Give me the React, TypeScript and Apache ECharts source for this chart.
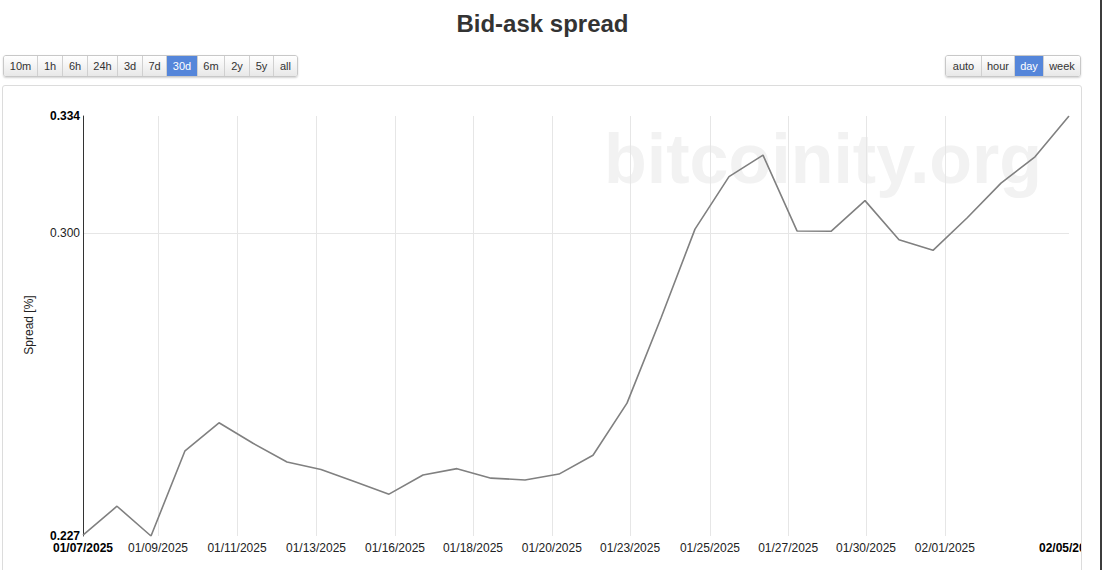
import React, { useEffect, useRef } from 'react';
import * as echarts from 'echarts';

const dates = [
  '2025-01-07', '2025-01-08', '2025-01-09', '2025-01-10', '2025-01-11', '2025-01-12',
  '2025-01-13', '2025-01-14', '2025-01-15', '2025-01-16', '2025-01-17', '2025-01-18',
  '2025-01-19', '2025-01-20', '2025-01-21', '2025-01-22', '2025-01-23', '2025-01-24',
  '2025-01-25', '2025-01-26', '2025-01-27', '2025-01-28', '2025-01-29', '2025-01-30',
  '2025-01-31', '2025-02-01', '2025-02-02', '2025-02-03', '2025-02-04', '2025-02-05',
];
const spread = [
  0.2272, 0.2333, 0.227, 0.2455, 0.2519, 0.2472,
  0.243, 0.2413, 0.2386, 0.2359, 0.2401, 0.2415,
  0.2394, 0.239, 0.2403, 0.2445, 0.2565, 0.2774,
  0.301, 0.3159, 0.3222, 0.3005, 0.3004, 0.309,
  0.2981, 0.2952, 0.3041, 0.314, 0.3217, 0.334,
];
// x tick positions, in days after the first date
const xTickDays = [2.206, 4.53, 6.853, 9.176, 11.47, 13.79, 16.09, 18.44, 20.74, 23.03, 25.35];
const yMin = 0.227;
const yMax = 0.334;
const yTickValues = [0.3];
const yLabelValues = [0.227, 0.3, 0.334];

const leftButtons = ['10m', '1h', '6h', '24h', '3d', '7d', '30d', '6m', '2y', '5y', 'all'];
const leftWidths = [33, 25, 25, 30, 25, 24, 31, 27, 25, 24, 24];
const rightButtons = ['auto', 'hour', 'day', 'week'];
const rightWidths = [35, 33, 29, 37];

const DAY = 86400000;
const t0 = Date.parse(dates[0]);
const dayOffset = (d: string) => (Date.parse(d) - t0) / DAY;
const lastDay = dayOffset(dates[dates.length - 1]);
const FONT = '"Liberation Sans", Arial, sans-serif';

function fmtDay(v: number) {
  const dt = new Date(t0 + Math.floor(v + 1e-6) * DAY);
  const mm = String(dt.getUTCMonth() + 1).padStart(2, '0');
  const dd = String(dt.getUTCDate()).padStart(2, '0');
  return `${mm}/${dd}/${dt.getUTCFullYear()}`;
}

function ButtonGroup({ labels, widths, active }: { labels: string[]; widths: number[]; active: string }) {
  return (
    <div
      style={{
        display: 'flex',
        height: 22,
        borderRadius: 3,
        boxShadow: '0 1px 2px rgba(0,0,0,0.18)',
        overflow: 'hidden',
        border: '1px solid #c8c8c8',
        boxSizing: 'border-box',
      }}
    >
      {labels.map((l, i) => {
        const on = l === active;
        return (
          <div
            key={l}
            style={{
              width: widths[i],
              boxSizing: 'border-box',
              borderLeft: i === 0 ? 'none' : '1px solid #d0d0d0',
              background: on ? '#5586da' : 'linear-gradient(#ffffff, #e8e8e8)',
              color: on ? '#fff' : '#333',
              fontSize: 11,
              lineHeight: '20px',
              textAlign: 'center',
              fontFamily: FONT,
            }}
          >
            {l}
          </div>
        );
      })}
    </div>
  );
}

export default function App() {
  const ref = useRef<HTMLDivElement>(null);

  useEffect(() => {
    if (!ref.current) return;
    const chart = echarts.init(ref.current, undefined, { renderer: 'svg' });
    const near = (a: number, b: number) => Math.abs(a - b) < 1e-6;
    chart.setOption({
      animation: false,
      textStyle: { fontFamily: FONT },
      grid: {
        left: 80,
        top: 30,
        width: 986,
        height: 420,
        containLabel: false,
        outerBoundsMode: 'none',
      },
      xAxis: {
        type: 'value',
        min: 0,
        max: lastDay,
        axisLine: { show: false },
        axisTick: { show: false, customValues: xTickDays },
        splitLine: { show: true, lineStyle: { color: '#e6e6e6', width: 1 } },
        axisLabel: {
          customValues: [0, ...xTickDays, lastDay],
          margin: 6,
          fontSize: 12,
          color: '#222',
          fontFamily: FONT,
          formatter: (v: number) =>
            near(v, 0) || near(v, lastDay) ? `{b|${fmtDay(v)}}` : fmtDay(v),
          rich: { b: { fontWeight: 'bold', fontSize: 12, color: '#000', fontFamily: FONT } },
        },
      },
      yAxis: {
        type: 'log',
        logBase: 10,
        min: yMin,
        max: yMax,
        axisLine: { show: true, lineStyle: { color: '#333', width: 1 } },
        axisTick: { show: false, customValues: yTickValues },
        splitLine: { show: true, lineStyle: { color: '#e6e6e6', width: 1 } },
        axisLabel: {
          customValues: yLabelValues,
          margin: 3,
          fontSize: 12,
          color: '#222',
          fontFamily: FONT,
          formatter: (v: number) =>
            near(v, yMin) || near(v, yMax) ? `{b|${v.toFixed(3)}}` : v.toFixed(3),
          rich: { b: { fontWeight: 'bold', fontSize: 12, color: '#000', fontFamily: FONT } },
        },
      },
      graphic: [
        {
          type: 'text',
          x: 601,
          y: 73,
          z: -10,
          silent: true,
          style: {
            text: 'bitcoinity.org',
            font: `bold 70px ${FONT}`,
            fill: '#f2f2f2',
            align: 'left',
            verticalAlign: 'middle',
            textAlign: 'left',
            textVerticalAlign: 'middle',
          },
        },
        {
          type: 'text',
          x: 26,
          y: 239,
          rotation: Math.PI / 2,
          style: {
            text: 'Spread [%]',
            font: `12px ${FONT}`,
            fill: '#222',
            align: 'center',
            verticalAlign: 'middle',
            textAlign: 'center',
            textVerticalAlign: 'middle',
          },
        },
      ],
      series: [
        {
          type: 'line',
          data: dates.map((d, i) => [dayOffset(d), spread[i]]),
          symbol: 'none',
          showSymbol: false,
          lineStyle: { color: '#808080', width: 1.6 },
          itemStyle: { color: '#808080' },
          z: 5,
        },
      ],
    });
    return () => chart.dispose();
  }, []);

  return (
    <div
      style={{
        position: 'fixed',
        left: 0,
        top: 0,
        width: 1102,
        height: 570,
        background: '#fff',
        overflow: 'hidden',
        fontFamily: FONT,
      }}
    >
      <div
        style={{
          position: 'absolute',
          left: 0,
          top: 10,
          width: 1085,
          textAlign: 'center',
          fontSize: 24,
          lineHeight: '28px',
          fontWeight: 'bold',
          color: '#333',
        }}
      >
        Bid-ask spread
      </div>
      <div style={{ position: 'absolute', left: 3, top: 55 }}>
        <ButtonGroup labels={leftButtons} widths={leftWidths} active="30d" />
      </div>
      <div style={{ position: 'absolute', left: 945, top: 55 }}>
        <ButtonGroup labels={rightButtons} widths={rightWidths} active="day" />
      </div>
      <div
        style={{
          position: 'absolute',
          left: 2,
          top: 85,
          width: 1078,
          height: 500,
          border: '1px solid #dcdcdc',
          borderRadius: 3,
          overflow: 'hidden',
        }}
      >
        <div ref={ref} style={{ position: 'absolute', left: 0, top: 0, width: 1078, height: 484 }} />
      </div>
      <div style={{ position: 'absolute', left: 1100, top: 0, width: 2, height: 570, background: '#3c3c3c' }} />
    </div>
  );
}
